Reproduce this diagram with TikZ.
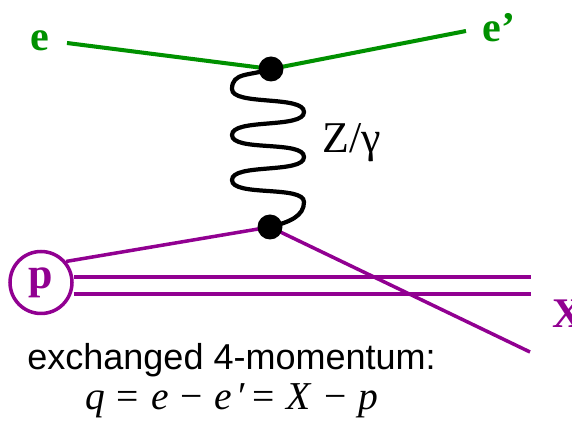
\documentclass[tikz,border=0pt]{standalone}
\usepackage{fontspec}
\setmainfont{Liberation Serif}
\newfontfamily\captionsans{Liberation Sans}
\usetikzlibrary{calc, positioning}

\definecolor{leptongreen}{RGB}{0,145,0}
\definecolor{hadronpurple}{RGB}{145,0,145}

\begin{document}
\begin{tikzpicture}[x=0.02cm, y=-0.02cm,
        lepton/.style={draw=leptongreen, line width=2.3pt},
        hadron/.style={draw=hadronpurple, line width=2pt},
        boson/.style={draw=black, line width=2.4pt},
        vertex/.style={circle, fill=black, inner sep=0pt, minimum size=0.5cm},
        particle/.style={inner sep=0pt, font=\fontsize{24}{28}\selectfont\bfseries},
        proton/.style={draw=hadronpurple, line width=2pt, circle, inner sep=0pt, minimum size=1.24cm, fill=white, text=hadronpurple, font=\fontsize{25}{28}\selectfont\bfseries}
    ]
    \useasboundingbox (0,0) rectangle (572,428);

    % ================= Vertices and particles =================
    \coordinate (v_top) at (271,69);
    \coordinate (v_bot) at (270,227);

    \node[particle, text=leptongreen] (e_in) at (39.5,41) {e};
    \node[particle, text=leptongreen, anchor=base west] (e_out) at (482,42) {e’};
    \coordinate (e_in_end) at (67,43);
    \coordinate (e_out_end) at (466,31);

    \node[proton] (p) at (41,282.5) {p};
    \node[particle, text=hadronpurple, anchor=base west] (X) at (552,328) {X};
    \coordinate (x_up) at (531,277);
    \coordinate (x_dn) at (531,294);
    \coordinate (x_struck) at (530,352);

    % ================= Lepton line =================
    \draw[lepton] (e_in_end) -- (v_top);
    \draw[lepton] (v_top) -- (e_out_end);

    % ================= Exchanged boson =================
    \draw[boson] (v_top) .. controls (250,76) and (232,72) .. (232,89)
        .. controls (232,106) and (304,95) .. (304,112)
        .. controls (304,129) and (232,118) .. (232,135)
        .. controls (232,152) and (304,140) .. (304,157)
        .. controls (304,174) and (232,163) .. (232,180)
        .. controls (232,197) and (304,185) .. (304,202)
        .. controls (304,216) and (290,222) .. (v_bot);
    \node[anchor=base west, inner sep=0pt, font=\fontsize{25}{28}\selectfont] (boson_lbl) at (322,153) {Z/γ};

    % ================= Hadron side =================
    \draw[hadron] (p.40) -- (v_bot);
    \draw[hadron] (v_bot) -- (x_struck);
    \draw[hadron] (p.east |- x_up) -- (x_up);
    \draw[hadron] (p.east |- x_dn) -- (x_dn);

    \node[vertex] (vtx_top) at (v_top) {};
    \node[vertex] (vtx_bot) at (v_bot) {};

    % ================= Caption =================
    \node[anchor=base west, inner sep=0pt, font=\captionsans\fontsize{20.5}{24}\selectfont] (caption) at (27,370) {exchanged 4-momentum:};
    \node[anchor=base west, inner sep=0pt, font=\fontsize{22.5}{26}\selectfont] (formula) at (85,410)
        {\textit{q}\hspace{.3em}=\hspace{.3em}\textit{e}\hspace{.3em}−\hspace{.3em}\textit{e}\hspace{.15em}′\hspace{.15em}=\hspace{.3em}\textit{X}\hspace{.3em}−\hspace{.3em}\textit{p}};

\end{tikzpicture}
\end{document}
